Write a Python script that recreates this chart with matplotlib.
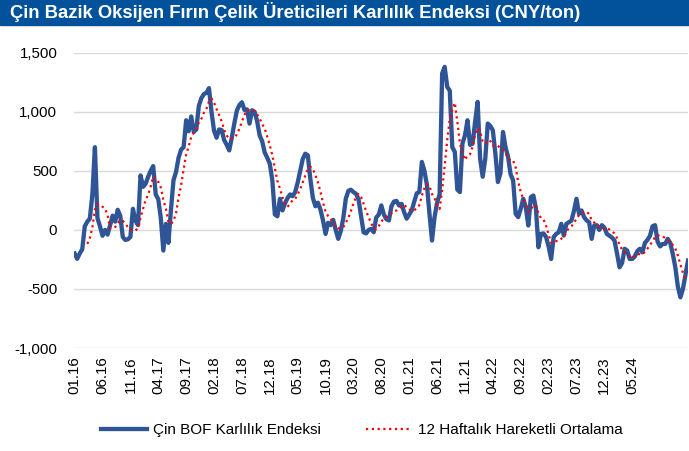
import matplotlib.pyplot as plt
import numpy as np
import pandas as pd

# haftalik veri, iki haftada bir okunmus degerler (CNY/ton)
bof_margin = [
    -200, -245, -200, -165, 30, 70, 95, 300, 700, 100,
    30, -50, 0, -40, 40, 120, 70, 170, 120, -60,
    -85, -80, -60, 178, 80, 40, 461, 365, 390, 450,
    500, 540, 300, 260, 100, -175, 50, -110, 170, 420,
    490, 610, 680, 700, 928, 835, 960, 830, 850, 1050,
    1115, 1150, 1160, 1200, 1000, 840, 780, 850, 845, 760,
    720, 673, 780, 900, 1010, 1056, 1080, 1015, 1020, 900,
    1013, 999, 920, 800, 750, 655, 610, 560, 420, 130,
    115, 263, 165, 225, 270, 300, 285, 320, 400, 500,
    600, 645, 631, 430, 270, 200, 230, 170, 80, -34,
    60, 40, 85, 0, -76, -10, 100, 265, 330, 340,
    320, 306, 260, 120, -20, -30, 0, 8, -20, 105,
    130, 207, 130, 90, 80, 200, 240, 245, 207, 220,
    150, 95, 130, 165, 240, 310, 320, 575, 500, 380,
    136, -90, 108, 230, 300, 1324, 1380, 1210, 1180, 700,
    660, 340, 320, 730, 800, 928, 720, 730, 914, 1084,
    600, 450, 600, 900, 880, 843, 645, 405, 480, 829,
    700, 620, 470, 420, 136, 108, 178, 263, 192, 37,
    277, 291, 180, -147, -34, -30, -60, -140, -246, -60,
    -34, -20, 51, -48, 51, 65, 78, 160, 263, 136,
    164, 108, 80, 65, -76, 37, 40, 0, 40, 20,
    -34, -50, -65, -90, -200, -317, -280, -160, -175, -246,
    -246, -225, -180, -160, -190, -110, -85, -50, 30, 40,
    -100, -140, -119, -119, -76, -110, -204, -317, -480, -571,
    -500, -380, -260,
]
step_weeks = 2

tick_labels = [
    "01.16", "06.16", "11.16", "04.17", "09.17", "02.18", "07.18",
    "12.18", "05.19", "10.19", "03.20", "08.20", "01.21", "06.21",
    "11.21", "04.22", "09.22", "02.23", "07.23", "12.23", "05.24",
]
tick_every_weeks = 22

weeks = np.arange(len(bof_margin)) * step_weeks
series = pd.Series(bof_margin, index=weeks)
moving_avg = series.rolling(12 // step_weeks).mean()

plt.rcParams['font.family'] = ['Liberation Sans', 'DejaVu Sans']

fig = plt.figure(figsize=(6.89, 4.51), dpi=100)
ax = fig.add_axes([74 / 689, 1 - 348 / 451, 614 / 689, (348 - 52.7) / 451])

# baslik seridi
fig.patches.append(plt.Rectangle((0, 1 - 25 / 451), 1, 25 / 451,
                                 transform=fig.transFigure, color='#02519B', zorder=0))
fig.text(10 / 689, 1 - 12.5 / 451,
         "Çin Bazik Oksijen Fırın Çelik Üreticileri Karlılık Endeksi (CNY/ton)",
         color='white', fontsize=13.3, fontweight='bold', va='center', ha='left')

ax.plot(series.index, series.values, color='#2F5597', linewidth=3.1,
        solid_joinstyle='round', label="Çin BOF Karlılık Endeksi", zorder=3)
ax.plot(moving_avg.index, moving_avg.values, color='#FF0000', linewidth=1.6,
        linestyle=(0, (1, 1.6)), label="12 Haftalık Hareketli Ortalama", zorder=4)

ax.set_ylim(-1000, 1500)
ax.set_yticks(np.arange(-1000, 1501, 500))
ax.yaxis.set_major_formatter(plt.FuncFormatter(lambda v, p: f"{v:,.0f}"))
ax.set_xlim(-0.5, weeks[-1])
ax.set_xticks(np.arange(len(tick_labels)) * tick_every_weeks)
ax.set_xticklabels(tick_labels, rotation=90)

ax.grid(axis='y', color='#D9D9D9', linewidth=1)
ax.set_axisbelow(True)
for s in ax.spines.values():
    s.set_visible(False)
ax.tick_params(length=0, labelsize=10.8, colors='black')
ax.tick_params(axis='y', pad=12)
ax.tick_params(axis='x', pad=6)

fig.legend(loc='center', bbox_to_anchor=(362 / 689, 1 - 430 / 451), ncol=2,
           frameon=False, fontsize=11, handlelength=3.0, columnspacing=3.0,
           handletextpad=0.4)

fig.savefig("out.png", dpi=100)
